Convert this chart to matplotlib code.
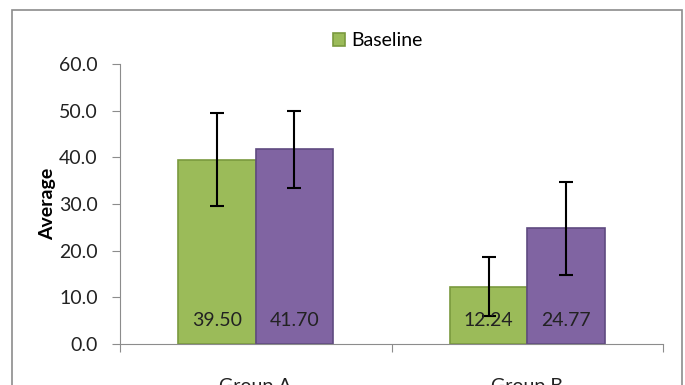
import matplotlib.pyplot as plt
import matplotlib.patches as patches
import numpy as np

groups = ["Group A", "Group B"]
baseline = [39.50, 12.24]
followup = [41.70, 24.77]
baseline_err = [9.9, 6.3]
followup_err = [8.3, 10.0]
yticks = [0, 10, 20, 30, 40, 50, 60]

plt.rcParams['font.family'] = ['Lato', 'DejaVu Sans']
fs = 14

fig = plt.figure(figsize=(6.85, 3.85), dpi=100)
ax = fig.add_axes([0.1752, 0.1065, 0.7927, 0.7273])

# cadre du graphique (coupé en bas)
frame = patches.Rectangle((12 / 685, -0.1), (682 - 12) / 685, 1.1 - 10 / 385,
                          transform=fig.transFigure, fill=False,
                          edgecolor='#8c8c8c', linewidth=1.2)
fig.patches.append(frame)

x = np.arange(len(groups))
w = 0.285
green = '#9BBB59'
purple = '#8064A2'

b1 = ax.bar(x - w / 2, baseline, w, color=green, edgecolor='#7a9a3e', linewidth=1.2,
            label='Baseline', zorder=2)
b2 = ax.bar(x + w / 2, followup, w, color=purple, edgecolor='#5f4a80', linewidth=1.2,
            zorder=2)
ax.errorbar(x - w / 2, baseline, yerr=baseline_err, fmt='none', ecolor='black',
            elinewidth=1.5, capsize=5, capthick=1.5, zorder=3)
ax.errorbar(x + w / 2, followup, yerr=followup_err, fmt='none', ecolor='black',
            elinewidth=1.5, capsize=5, capthick=1.5, zorder=3)

for xi, v in zip(x - w / 2, baseline):
    ax.text(xi, 5, f"{v:.2f}", ha='center', va='center', fontsize=fs, color='#222222', zorder=4)
for xi, v in zip(x + w / 2, followup):
    ax.text(xi, 5, f"{v:.2f}", ha='center', va='center', fontsize=fs, color='#222222', zorder=4)

ax.set_xlim(-0.5, 1.5)
ax.set_ylim(0, 60)
ax.set_yticks(yticks)
ax.set_yticklabels([f"{t:.1f}" for t in yticks], fontsize=fs, color='#222222')
ax.set_ylabel("Average", fontsize=fs, fontweight='bold')
ax.yaxis.set_label_coords(-0.118, 0.5)

ax.set_xticks([-0.5, 0.5, 1.5])
ax.set_xticklabels([])
ax.tick_params(axis='x', direction='out', length=6, color='#8c8c8c')
ax.tick_params(axis='y', direction='out', length=6, color='#8c8c8c', pad=10)
for xi, g in zip(x, groups):
    ax.text(xi, -0.12, g, transform=ax.get_xaxis_transform(), ha='center', va='top',
            fontsize=fs, color='#222222', clip_on=False)

for s in ['top', 'right']:
    ax.spines[s].set_visible(False)
ax.spines['left'].set_color('#8c8c8c')
ax.spines['bottom'].set_color('#8c8c8c')

ax.legend(handles=[b1], loc='upper center', bbox_to_anchor=(0.475, 1.175), frameon=False,
          fontsize=fs, handlelength=0.6, handleheight=0.6, handletextpad=0.3)

fig.savefig("out.png", dpi=100)
